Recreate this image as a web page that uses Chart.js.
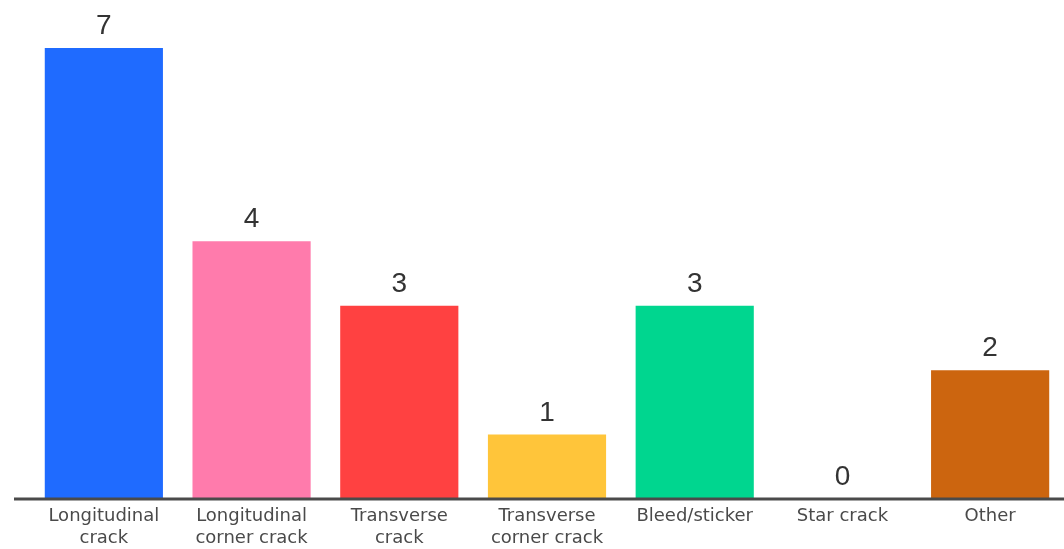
<!DOCTYPE html>
<html>
<head>
<meta charset="utf-8">
<script src="https://cdn.jsdelivr.net/npm/chart.js@4"></script>
<style>
html,body{margin:0;padding:0;background:#fff;}
#wrap{width:1064px;height:549px;}
</style>
</head>
<body>
<div id="wrap"><canvas id="c" width="1064" height="549"></canvas></div>
<script>
const categories = [
  ["Longitudinal","crack"],
  ["Longitudinal","corner crack"],
  ["Transverse","crack"],
  ["Transverse","corner crack"],
  "Bleed/sticker",
  "Star crack",
  "Other"
];
const counts = [7, 4, 3, 1, 3, 0, 2];
const barColors = ["#1F6BFF", "#FF7BAC", "#FF4141", "#FFC53A", "#00D68F", "#9E9E9E", "#CC650F"];

const valueLabels = {
  id: 'valueLabels',
  afterDatasetsDraw(chart) {
    const ctx = chart.ctx;
    const meta = chart.getDatasetMeta(0);
    ctx.save();
    ctx.font = '28px "Liberation Sans", Arial, sans-serif';
    ctx.fillStyle = '#333';
    ctx.textAlign = 'center';
    ctx.textBaseline = 'alphabetic';
    meta.data.forEach((bar, i) => {
      ctx.fillText(String(counts[i]), bar.x, bar.y - 14);
    });
    ctx.restore();
  }
};
const baseLine = {
  id: 'baseLine',
  afterDatasetsDraw(chart) {
    const ctx = chart.ctx;
    const y = chart.scales.y.getPixelForValue(0);
    ctx.save();
    ctx.strokeStyle = '#4a4a4a';
    ctx.lineWidth = 3;
    ctx.beginPath();
    ctx.moveTo(14, y);
    ctx.lineTo(1064, y);
    ctx.stroke();
    ctx.restore();
  }
};

new Chart(document.getElementById('c'), {
  type: 'bar',
  data: {
    labels: categories,
    datasets: [{
      data: counts,
      backgroundColor: barColors,
      borderWidth: 0,
      barPercentage: 1.0,
      categoryPercentage: 0.8
    }]
  },
  options: {
    responsive: false,
    animation: false,
    devicePixelRatio: 1,
    layout: { padding: { left: 30, right: 0, top: 48, bottom: 0 } },
    plugins: { legend: { display: false }, tooltip: { enabled: false } },
    scales: {
      x: {
        grid: { display: false, drawTicks: false },
        border: { display: false },
        afterFit(scale) { scale.height = 50; },
        ticks: {
          color: '#4a4a4a',
          font: { family: '"DejaVu Sans", sans-serif', size: 18, lineHeight: 1.22 },
          padding: 6,
          maxRotation: 0,
          autoSkip: false
        }
      },
      y: {
        display: false,
        min: 0,
        max: 7
      }
    }
  },
  plugins: [valueLabels, baseLine]
});
</script>
</body>
</html>
